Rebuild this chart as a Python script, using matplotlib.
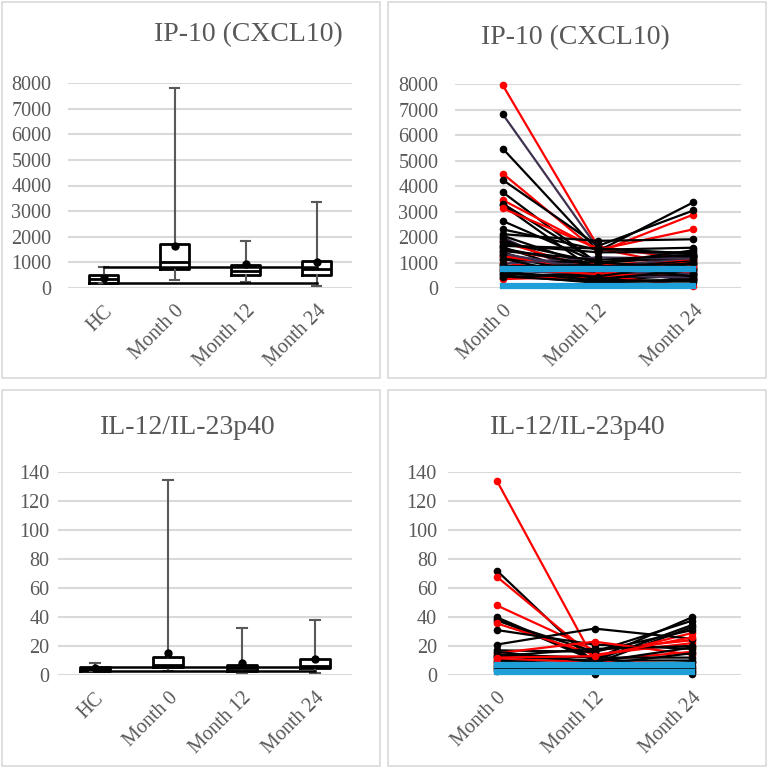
import matplotlib
matplotlib.use('Agg')
import matplotlib.pyplot as plt
from matplotlib.patches import Rectangle

plt.rcParams['font.family'] = ['Liberation Serif', 'DejaVu Serif']

# box plot panels (left column)
box_cats = ['HC', 'Month 0', 'Month 12', 'Month 24']

ip10_q1 = [208, 727, 494, 494]
ip10_med = [364, 1026, 662, 753]
ip10_q3 = [506, 1701, 896, 1052]
ip10_lo = [182, 312, 234, 78]
ip10_hi = [810, 7820, 1850, 3350]
ip10_mean = [403, 1636, 948, 1013]
ip10_hc_range = [810, 182]

il12_q1 = [2.5, 5.8, 3.0, 4.9]
il12_med = [4.0, 7.0, 5.0, 6.0]
il12_q3 = [5.3, 12.3, 7.0, 10.9]
il12_lo = [2.5, 3.0, 1.2, 1.2]
il12_hi = [8.1, 134.5, 32.5, 38.0]
il12_mean = [5.0, 15.1, 8.4, 11.2]
il12_hc_range = [5.3, 3.0]

# patient lines (right column)
line_cats = ['Month 0', 'Month 12', 'Month 24']

ip10_m0 = [7960, 6820, 5470, 4490, 4240, 3760, 3450, 3310, 3250, 3120, 2630, 2300,
           2110, 1980, 1900, 1800, 1700, 1600, 1500, 1400, 1300, 1200, 1100, 1000,
           900, 800, 700, 600, 500, 400, 350, 1800, 2050, 1650, 1250, 450, 950,
           1550, 1350, 1150, 850, 750, 650, 550, 1450]
ip10_m12 = [1630, 1550, 1450, 1400, 1650, 950, 1500, 1000, 600, 1550, 1000, 1500,
            1850, 300, 500, 700, 1400, 400, 900, 300, 800, 600, 1000, 500,
            400, 700, 500, 300, 200, 600, 450, 1000, 800, 1550, 700, 250, 1200,
            850, 650, 350, 900, 550, 300, 450, 1100]
ip10_m24 = [1100, 1250, 3360, 2880, 3040, 1480, 2300, 1250, 1200, 800, 1300, 1580,
            1910, 600, 1000, 400, 1400, 700, 1100, 500, 1200, 900, 800, 60,
            600, 300, 400, 800, 350, 500, 650, 1200, 1050, 1350, 1000, 250, 1150,
            950, 550, 700, 450, 850, 300, 1000, 1300]
ip10_group = ['R', 'P', 'K', 'R', 'K', 'K', 'R', 'K', 'K', 'R', 'K', 'K',
              'K', 'P', 'K', 'R', 'K', 'K', 'R', 'K', 'P', 'K', 'K', 'R',
              'K', 'K', 'P', 'K', 'K', 'K', 'R', 'K', 'K', 'K', 'R', 'K', 'P',
              'K', 'P', 'K', 'K', 'R', 'K', 'K', 'K']
ip10_hc_line = [740, 80]

il12_m0 = [134, 72, 67.8, 48, 39.8, 38.4, 37.5, 35.6, 31, 21, 17, 15, 14,
           12.6, 11, 10, 9, 8, 7, 6, 5, 4, 3, 13, 16, 12]
il12_m12 = [10, 8, 12, 17, 11, 10, 16, 14, 21, 32, 16, 23, 12,
            10, 9, 7, 6, 5, 5, 4, 1, 3, 6, 18, 9, 13]
il12_m24 = [16, 33, 29, 24, 39.8, 34.5, 37.5, 22, 18, 25, 31, 14, 12,
            10, 8, 15, 6, 4, 9, 5, 3, 1, 2, 20, 19, 26]
il12_group = ['R', 'K', 'R', 'R', 'K', 'K', 'K', 'R', 'K', 'K', 'K', 'R', 'K',
              'K', 'R', 'K', 'K', 'R', 'K', 'K', 'K', 'K', 'K', 'K', 'K', 'R']
il12_hc_line = [7.0, 2.0]

W, H = 769, 769
TXT = '#595959'
GRID = '#D9D9D9'
line_col = {'R': '#FF0000', 'K': '#000000', 'P': '#403151'}
dot_col = {'R': '#FF0000', 'K': '#000000', 'P': '#000000'}

fig = plt.figure(figsize=(W / 100, H / 100), dpi=100)


def px_axes(x0, y0, x1, y1):
    return fig.add_axes([x0 / W, 1 - y1 / H, (x1 - x0) / W, (y1 - y0) / H])


def style_axes(ax, ymax, ystep, ypad, cats):
    ax.set_ylim(0, ymax)
    ax.set_yticks(range(0, int(ymax) + 1, ystep))
    ax.set_xticks(range(len(cats)))
    ax.set_xticklabels(cats, rotation=45, ha='right', va='top', rotation_mode='anchor')
    ax.set_xlim(-0.5, len(cats) - 0.5)
    for s in ax.spines.values():
        s.set_visible(False)
    ax.grid(axis='y', color=GRID, lw=1.5)
    ax.set_axisbelow(True)
    ax.tick_params(axis='both', length=0, colors=TXT, labelsize=14.5)
    ax.tick_params(axis='y', pad=ypad)
    ax.tick_params(axis='x', pad=10)


def draw_box_panel(ax, q1, med, q3, lo, hi, mean, hc_range):
    stats = []
    for i in range(len(q1)):
        stats.append({'q1': q1[i], 'med': med[i], 'q3': q3[i],
                      'whislo': lo[i], 'whishi': hi[i], 'mean': mean[i]})
    ax.bxp(stats, positions=range(len(q1)), widths=0.41, showmeans=True,
           showfliers=False, capwidths=0.14,
           boxprops=dict(color='black', lw=2),
           medianprops=dict(color='black', lw=2),
           whiskerprops=dict(color=TXT, lw=1.5),
           capprops=dict(color=TXT, lw=1.5),
           meanprops=dict(marker='o', markerfacecolor='black',
                          markeredgecolor='black', markersize=5))
    for v in hc_range:
        ax.plot([0, len(q1) - 1], [v, v], color='black', lw=1.8, clip_on=False)


def draw_line_panel(ax, m0, m12, m24, group, hc_line):
    xs = range(3)
    for a, b, c, g in zip(m0, m12, m24, group):
        ax.plot(xs, [a, b, c], color=line_col[g], lw=1.6, marker='o', markersize=4.5,
                markerfacecolor=dot_col[g], markeredgecolor=dot_col[g], clip_on=False,
                zorder=2)
    for v in hc_line:
        ax.plot(xs, [v] * 3, color='#1F9FD8', lw=4.5, clip_on=False, zorder=6)


# panel frames
for x0, y0, x1, y1 in [(2, 2, 380, 378), (388, 2, 766, 378),
                       (2, 390, 380, 766), (388, 390, 766, 766)]:
    fig.add_artist(Rectangle((x0 / W, 1 - y1 / H), (x1 - x0) / W, (y1 - y0) / H,
                             transform=fig.transFigure, fill=False,
                             edgecolor=GRID, lw=1.2))

ax1 = px_axes(68, 83, 352, 288)
draw_box_panel(ax1, ip10_q1, ip10_med, ip10_q3, ip10_lo, ip10_hi, ip10_mean, ip10_hc_range)
style_axes(ax1, 8000, 1000, 12, box_cats)

ax2 = px_axes(455, 84, 741, 288)
draw_line_panel(ax2, ip10_m0, ip10_m12, ip10_m24, ip10_group, ip10_hc_line)
style_axes(ax2, 8000, 1000, 12, line_cats)

ax3 = px_axes(58, 472, 352, 675)
draw_box_panel(ax3, il12_q1, il12_med, il12_q3, il12_lo, il12_hi, il12_mean, il12_hc_range)
style_axes(ax3, 140, 20, 6, box_cats)

ax4 = px_axes(448, 472, 741, 675)
draw_line_panel(ax4, il12_m0, il12_m12, il12_m24, il12_group, il12_hc_line)
style_axes(ax4, 140, 20, 8, line_cats)

titles = [('IP-10 (CXCL10)', 248, 35), ('IP-10 (CXCL10)', 575, 38),
          ('IL-12/IL-23p40', 188, 427), ('IL-12/IL-23p40', 578, 427)]
for t, x, y in titles:
    fig.text(x / W, 1 - y / H, t, ha='center', va='center', fontsize=20, color=TXT)

fig.savefig('out.png', dpi=100)
